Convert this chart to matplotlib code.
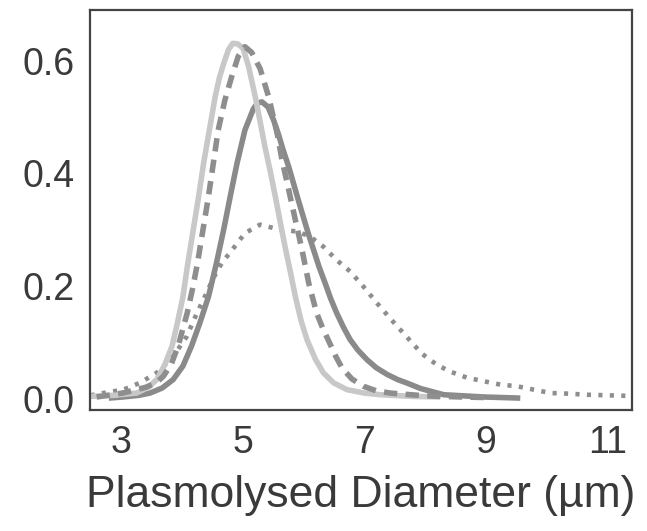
import matplotlib
matplotlib.use("Agg")
import matplotlib.pyplot as plt

# --- data (x in µm, y = density) ---
light_x = [2.49, 2.9, 3.26, 3.45, 3.59, 3.72, 3.84, 3.93, 4.02, 4.10, 4.19, 4.28, 4.36, 4.46, 4.55,
           4.62, 4.69, 4.77, 4.84, 4.92, 5.01, 5.10, 5.21, 5.29, 5.37, 5.46, 5.54, 5.62, 5.70, 5.79,
           5.87, 5.96, 6.06, 6.20, 6.33, 6.50, 6.72, 7.0, 7.27, 7.8, 8.25]
light_y = [0.004, 0.006, 0.010, 0.020, 0.034, 0.060, 0.093, 0.135, 0.181, 0.240, 0.300, 0.360, 0.418,
           0.480, 0.536, 0.570, 0.595, 0.620, 0.631, 0.630, 0.622, 0.590, 0.536, 0.492, 0.447, 0.402,
           0.359, 0.314, 0.270, 0.224, 0.181, 0.140, 0.105, 0.070, 0.046, 0.028, 0.016, 0.010, 0.007,
           0.004, 0.003]

dark_x = [2.8, 3.03, 3.30, 3.48, 3.68, 3.86, 4.02, 4.16, 4.30, 4.44, 4.57, 4.69, 4.80, 4.91, 5.04,
          5.18, 5.25, 5.32, 5.42, 5.51, 5.59, 5.67, 5.76, 5.84, 5.92, 6.00, 6.08, 6.17, 6.26, 6.36,
          6.45, 6.55, 6.66, 6.77, 6.90, 7.05, 7.20, 7.38, 7.55, 7.70, 7.93, 8.31, 8.97, 9.57]
dark_y = [0.001, 0.003, 0.006, 0.010, 0.019, 0.034, 0.058, 0.093, 0.135, 0.181, 0.240, 0.300, 0.360,
          0.418, 0.477, 0.515, 0.525, 0.527, 0.518, 0.495, 0.470, 0.441, 0.412, 0.382, 0.352, 0.323,
          0.294, 0.264, 0.234, 0.205, 0.178, 0.152, 0.127, 0.105, 0.086, 0.069, 0.055, 0.043, 0.034,
          0.028, 0.018, 0.007, 0.003, 0.001]

dash_x = [2.6, 3.03, 3.40, 3.58, 3.70, 3.83, 3.94, 4.09, 4.18, 4.26, 4.35, 4.44, 4.52, 4.60, 4.71,
          4.82, 4.93, 5.04, 5.15, 5.29, 5.43, 5.57, 5.65, 5.76, 5.87, 5.98, 6.09, 6.22, 6.32, 6.42,
          6.53, 6.64, 6.80, 6.99, 7.20, 7.43, 8.0, 8.6, 9.0]
dash_y = [0.003, 0.010, 0.020, 0.028, 0.040, 0.062, 0.093, 0.152, 0.196, 0.241, 0.300, 0.359, 0.418,
          0.477, 0.530, 0.571, 0.608, 0.625, 0.615, 0.586, 0.536, 0.471, 0.424, 0.371, 0.317, 0.264,
          0.205, 0.152, 0.125, 0.102, 0.076, 0.054, 0.035, 0.022, 0.014, 0.010, 0.005, 0.003, 0.002]

dot_x = [2.5, 2.71, 3.04, 3.31, 3.59, 3.86, 4.08, 4.25, 4.38, 4.52, 4.66, 4.85, 5.04, 5.29, 5.62,
         5.89, 6.11, 6.33, 6.55, 6.77, 6.99, 7.21, 7.45, 7.70, 7.95, 8.20, 8.42, 8.70, 8.97, 9.24,
         9.52, 9.79, 10.07, 10.34, 10.67, 11.00, 11.33]
dot_y = [0.006, 0.010, 0.016, 0.028, 0.046, 0.075, 0.110, 0.152, 0.181, 0.214, 0.241, 0.267, 0.294,
         0.309, 0.300, 0.297, 0.288, 0.270, 0.246, 0.226, 0.199, 0.170, 0.140, 0.110, 0.080, 0.060,
         0.048, 0.037, 0.031, 0.025, 0.022, 0.016, 0.010, 0.009, 0.007, 0.006, 0.005]

x_ticks = [3, 5, 7, 9, 11]
y_ticks = [0.0, 0.2, 0.4, 0.6]
x_label = "Plasmolysed Diameter (µm)"

plt.rcParams['font.family'] = ['Liberation Sans', 'DejaVu Sans']

fig = plt.figure(figsize=(6.47, 5.31), dpi=100)
ax = fig.add_axes([0.139, 0.228, 0.838, 0.753])

ax.plot(dot_x, dot_y, color='#8e8e8e', lw=3.3, linestyle=(0, (0.9, 1.6)), solid_capstyle='butt')
ax.plot(dark_x, dark_y, color='#8a8a8a', lw=4.0, solid_capstyle='butt', solid_joinstyle='round')
ax.plot(light_x, light_y, color='#c8c8c8', lw=4.0, solid_capstyle='butt', solid_joinstyle='round')
ax.plot(dash_x, dash_y, color='#8e8e8e', lw=4.0, dashes=(2.4, 1.5), dash_capstyle='butt')

ax.set_xlim(2.49, 11.41)
ax.set_ylim(-0.02, 0.69)
ax.set_xticks(x_ticks)
ax.set_xticklabels([str(t) for t in x_ticks])
ax.set_yticks(y_ticks)
ax.set_yticklabels([f"{t:.1f}" for t in y_ticks])
ax.tick_params(length=0, labelsize=27, labelcolor='#3a3a3a', pad=11)
ax.set_xlabel(x_label, fontsize=32, color='#3a3a3a', labelpad=10)
for s in ax.spines.values():
    s.set_color('#444444')
    s.set_linewidth(1.6)

fig.savefig("out.png", dpi=100, facecolor='white')
